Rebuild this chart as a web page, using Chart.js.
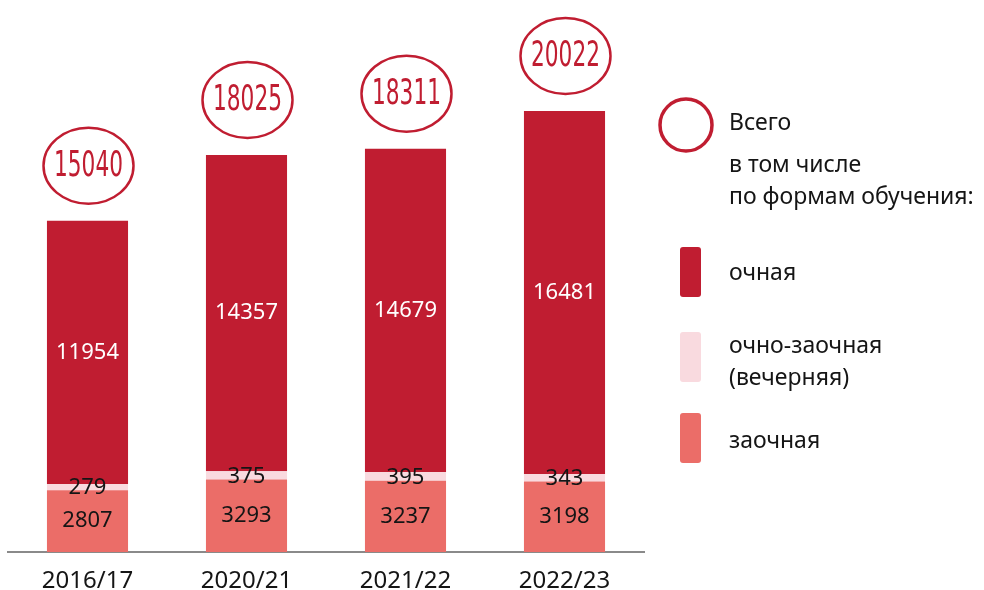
<!DOCTYPE html>
<html>
<head>
<meta charset="utf-8">
<script src="https://cdn.jsdelivr.net/npm/chart.js@4/dist/chart.umd.min.js"></script>
<style>
html,body{margin:0;padding:0;background:#fff;}
#wrap{width:984px;height:590px;position:relative;}
</style>
</head>
<body>
<div id="wrap"><canvas id="c" width="984" height="590"></canvas></div>
<script>
const categories = ['2016/17', '2020/21', '2021/22', '2022/23'];
const zaochnaya = [2807, 3293, 3237, 3198];
const ochnoZaochnaya = [279, 375, 395, 343];
const ochnaya = [11954, 14357, 14679, 16481];
const totals = [15040, 18025, 18311, 20022];

const legendTotal = 'Всего';
const legendSub = ['в том числе', 'по формам обучения:'];
const seriesNames = ['очная', ['очно-заочная', '(вечерняя)'], 'заочная'];

const DARK = '#C01D31';
const PINK = '#F9DADF';
const SALMON = '#EB6D68';
const TEXT = '#151515';
const FONT = '"Noto Sans", "Open Sans", sans-serif';
const NUMFONT = '"Liberation Sans Narrow", "DejaVu Sans Condensed", "Roboto", sans-serif';

const overlay = {
  id: 'overlay',
  afterDatasetsDraw(chart) {
    const ctx = chart.ctx;
    const x = chart.scales.x, y = chart.scales.y;
    ctx.save();
    // segment labels
    const labelColors = [TEXT, TEXT, '#ffffff'];
    chart.data.datasets.forEach((ds, di) => {
      const meta = chart.getDatasetMeta(di);
      meta.data.forEach((bar, i) => {
        const cy = (bar.y + bar.base) / 2;
        ctx.fillStyle = labelColors[di];
        ctx.font = '22px ' + FONT;
        ctx.textAlign = 'center';
        ctx.textBaseline = 'middle';
        ctx.fillText(String(ds.data[i]), bar.x, cy + (di === 1 ? 1 : 0));
      });
    });
    // totals in ellipses
    totals.forEach((t, i) => {
      const cx = x.getPixelForValue(i);
      const top = y.getPixelForValue(t);
      const cy = top - 55;
      ctx.beginPath();
      ctx.ellipse(cx + 1, cy, 45, 38, 0, 0, Math.PI * 2);
      ctx.strokeStyle = DARK;
      ctx.lineWidth = 2.5;
      ctx.stroke();
      ctx.fillStyle = DARK;
      ctx.font = '36px ' + NUMFONT;
      ctx.textAlign = 'center';
      ctx.textBaseline = 'middle';
      const s = String(t);
      const w = ctx.measureText(s).width;
      const target = 69;
      ctx.save();
      ctx.translate(cx + 1, cy + 1);
      ctx.scale(target / w, 1);
      ctx.fillText(s, 0, 0);
      ctx.restore();
    });
    // legend
    ctx.beginPath();
    ctx.arc(686, 125, 26, 0, Math.PI * 2);
    ctx.strokeStyle = DARK;
    ctx.lineWidth = 3.5;
    ctx.stroke();
    ctx.fillStyle = TEXT;
    ctx.font = '23px ' + FONT;
    ctx.textAlign = 'left';
    ctx.textBaseline = 'middle';
    ctx.fillText(legendTotal, 729, 123);
    ctx.fillText(legendSub[0], 729, 165);
    ctx.fillText(legendSub[1], 729, 197);
    const rects = [[247, DARK], [332, PINK], [413, SALMON]];
    rects.forEach(([ry, col]) => {
      ctx.fillStyle = col;
      ctx.beginPath();
      ctx.roundRect(680, ry, 21, 50, 3);
      ctx.fill();
    });
    ctx.fillStyle = TEXT;
    ctx.fillText(seriesNames[0], 729, 273);
    ctx.fillText(seriesNames[1][0], 729, 346);
    ctx.fillText(seriesNames[1][1], 729, 378);
    ctx.fillText(seriesNames[2], 729, 441);
    ctx.restore();
  }
};

new Chart(document.getElementById('c'), {
  type: 'bar',
  data: {
    labels: categories,
    datasets: [
      { label: 'заочная', data: zaochnaya, backgroundColor: SALMON },
      { label: 'очно-заочная (вечерняя)', data: ochnoZaochnaya, backgroundColor: PINK },
      { label: 'очная', data: ochnaya, backgroundColor: DARK }
    ]
  },
  options: {
    responsive: false,
    animation: false,
    layout: { padding: { left: 8, right: 340, top: 0, bottom: 0 } },
    datasets: { bar: { barPercentage: 0.51, categoryPercentage: 1.0 } },
    plugins: { legend: { display: false }, tooltip: { enabled: false } },
    scales: {
      x: {
        stacked: true,
        grid: { display: false },
        border: { display: true, color: '#8a8a8a', width: 2 },
        ticks: { color: TEXT, font: { family: FONT, size: 24 }, padding: 7 },
        afterFit: s => { s.height = 38; }
      },
      y: {
        stacked: true,
        display: false,
        min: 0,
        max: 25060
      }
    }
  },
  plugins: [overlay]
});
</script>
</body>
</html>
